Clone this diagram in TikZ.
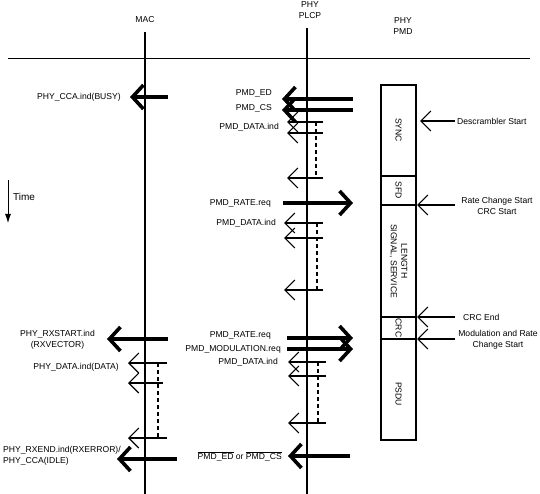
\documentclass[tikz,border=0pt]{standalone}
\usepackage{fontspec}
\setmainfont{Liberation Sans}
\usetikzlibrary{arrows.meta, positioning, calc}

\tikzset{
  font=\fontsize{8.6}{10.5}\selectfont,
  %
  lifeline/.style={line width=2pt},
  rulerline/.style={line width=0.8pt},
  sigthick/.style={line width=3.6pt,
    -{Straight Barb[length=11pt, width=24pt]}},
  sigthin/.style={line width=1.1pt,
    -{Straight Barb[length=10pt, width=20pt]}},
  gapline/.style={line width=1.1pt, dash pattern=on 4pt off 3pt},
  %
  frame/.style={line width=1.3pt},
  fieldlbl/.style={rotate=-90, align=center, inner sep=1pt},
  lbl/.style={inner sep=1pt},
  lblr/.style={lbl, anchor=east},
  lbll/.style={lbl, anchor=west},
}

% name, style, y, from x, to x
\newcommand{\sig}[5]{%
  \coordinate (#1-a) at (#4,#3);
  \coordinate (#1-b) at (#5,#3);
  \draw[#2] (#1-a) -- (#1-b);
}
% name, top y, bottom y, x of the gap line, from x, to x
\newcommand{\burst}[6]{%
  \sig{#1-1}{sigthin}{#2}{#5}{#6}
  \sig{#1-n}{sigthin}{#3}{#5}{#6}
  \coordinate (#1-g) at (#4,#2);
  \draw[gapline] (#1-g) -- (#1-g |- #1-n-a);
}

\begin{document}
\begin{tikzpicture}[x=1pt, y=-1pt]
  \useasboundingbox (0,0) rectangle (540,494);

  % ---- headings and lifelines --------------------------------------------
  \node[lbl] (mac) at (145,20) {MAC};
  \node[lbl, align=center] (plcp) at (310,10) {PHY\\PLCP};
  \node[lbl, align=center] (pmd) at (403,26) {PHY\\PMD};

  \coordinate (rule-l) at (8,58);
  \coordinate (rule-r) at (530,58);
  \draw[rulerline] (rule-l) -- (rule-r);

  \coordinate (mac-top) at (145,32);
  \coordinate (plcp-top) at (307,28);
  \draw[lifeline] (mac-top) -- ++(0,462);
  \draw[lifeline] (plcp-top) -- ++(0,466);

  % ---- time --------------------------------------------------------------
  \coordinate (time-a) at (8,180);
  \coordinate (time-b) at (8,223);
  \draw[line width=0.8pt, -{Latex[length=9pt, width=6pt]}] (time-a) -- (time-b);
  \node[lbll, font=\fontsize{10}{12}\selectfont] (time) at (12,197) {Time};

  % ---- PMD frame ---------------------------------------------------------
  \coordinate (f-nw) at (381,85);
  \coordinate (f-se) at (416,440);
  \draw[frame] (f-nw) rectangle (f-se);
  \foreach \y in {176,205,317,339} { \draw[frame] (381,\y) -- (416,\y); }

  \node[fieldlbl] (sync) at (398.5,130) {SYNC};
  \node[fieldlbl] (sfd) at (398.5,190.5) {SFD};
  \node[fieldlbl] (hdr) at (398.5,261) {LENGTH\\SIGNAL, SERVICE};
  \node[fieldlbl] (crc) at (398.5,328) {CRC};
  \node[fieldlbl] (psdu) at (398.5,394) {PSDU};

  % ---- PMD events --------------------------------------------------------
  \sig{desc}{sigthin}{121}{455}{420}
  \node[lbll] (desc-t) at (456,121) {Descrambler Start};
  \sig{rcs}{sigthin}{205}{455}{417}
  \node[lbl, align=center] (rcs-t) at (497,206) {Rate Change Start\\CRC Start};
  \sig{crce}{sigthin}{317}{455}{417}
  \node[lbll] (crce-t) at (462,317) {CRC End};
  \sig{mrc}{sigthin}{339}{455}{417}
  \node[lbl, align=center] (mrc-t) at (498,340) {Modulation and Rate\\Change Start};

  % ---- PLCP side ---------------------------------------------------------
  \sig{ed}{sigthick}{99}{353}{282}
  \node[lblr] (ed-t) at (273,93) {PMD\_ED};
  \sig{cs}{sigthick}{110}{353}{282}
  \node[lblr] (cs-t) at (273,108) {PMD\_CS};

  \burst{d1}{122}{178}{316}{323}{287}
  \sig{d1-2}{sigthin}{133}{323}{287}
  \node[lblr] (d1-t) at (280,127) {PMD\_DATA.ind};

  \sig{rate1}{sigthick}{203}{283}{353}
  \node[lblr] (rate1-t) at (272,203) {PMD\_RATE.req};

  \burst{d2}{223}{290}{317}{323}{284}
  \sig{d2-2}{sigthin}{238}{323}{284}
  \node[lblr] (d2-t) at (277,223) {PMD\_DATA.ind};

  \sig{rate2}{sigthick}{338}{287}{353}
  \node[lblr] (rate2-t) at (272,335) {PMD\_RATE.req};
  \sig{mod}{sigthick}{349}{287}{353}
  \node[lblr] (mod-t) at (282,349) {PMD\_MODULATION.req};

  \burst{d3}{362}{423}{318}{326}{288}
  \sig{d3-2}{sigthin}{376}{326}{288}
  \node[lblr] (d3-t) at (279,362) {PMD\_DATA.ind};

  \sig{edcs}{sigthick}{456}{350}{288}
  \node[lblr] (edcs-t) at (283,456)
    {$\overline{\mbox{PMD\_ED}}$ or $\overline{\mbox{PMD\_CS}}$};

  % ---- MAC side ----------------------------------------------------------
  \sig{cca}{sigthick}{97}{168}{130}
  \node[lblr] (cca-t) at (122,97) {PHY\_CCA.ind(BUSY)};

  \sig{rxs}{sigthick}{339}{168}{107}
  \node[lbl, align=center, anchor=east] (rxs-t) at (96,340)
    {PHY\_RXSTART.ind\\(RXVECTOR)};

  \burst{pd}{363}{438}{158}{167}{128}
  \sig{pd-2}{sigthin}{383}{163}{128}
  \node[lblr] (pd-t) at (120,367) {PHY\_DATA.ind(DATA)};

  \sig{rxe}{sigthick}{459}{177}{117}
  \node[lbl, align=left, anchor=west] (rxe-t) at (2,456)
    {PHY\_RXEND.ind(RXERROR)/\\PHY\_CCA(IDLE)};

\end{tikzpicture}
\end{document}
